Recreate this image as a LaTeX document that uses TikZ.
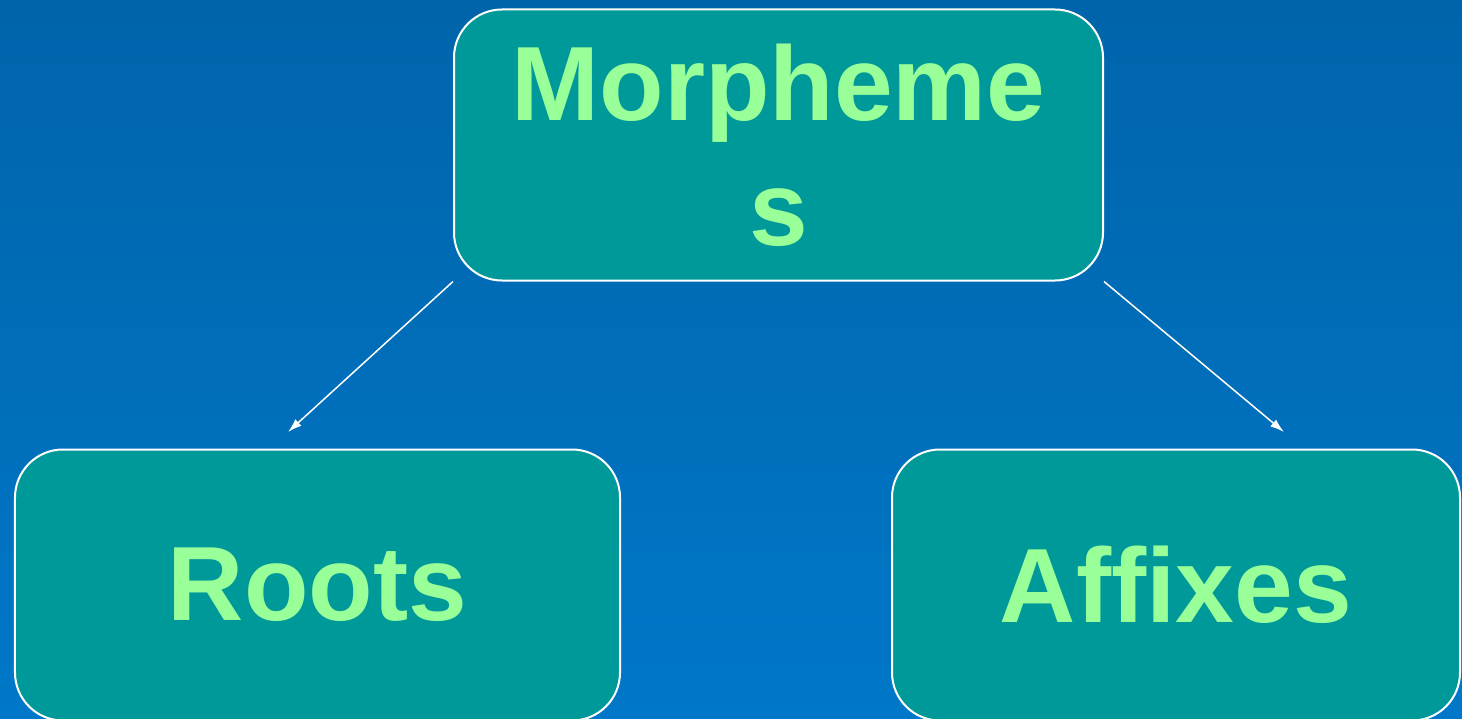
\documentclass[tikz,border=0pt]{standalone}
\usepackage{fontspec}
\usetikzlibrary{arrows.meta}
\setmainfont{Liberation Sans}
\definecolor{bgtop}{HTML}{0064AA}
\definecolor{bgbottom}{HTML}{0077C8}
\definecolor{boxfill}{HTML}{009999}
\definecolor{boxtext}{HTML}{99FF99}
\tikzset{
  termbox/.style={draw=white, line width=2bp, fill=boxfill, rounded corners=48bp,
    text=boxtext, font=\fontsize{106}{125}\selectfont\bfseries, align=center,
    inner sep=0pt, minimum height=271bp}
}
\begin{document}
\begin{tikzpicture}[>={Latex[length=14bp, width=9bp]}, x=1bp, y=-1bp]
        % Background
        \useasboundingbox (0,0) rectangle (1462,719);
        \shade[top color=bgtop, bottom color=bgbottom] (0,0) rectangle (1462,719);

        % Nodes
        \node[termbox, minimum width=649bp] (morph) at (778.5, 145) {Morpheme\\s};
        \node[termbox, minimum width=605bp] (roots) at (317.5, 585) {Roots};
        \node[termbox, minimum width=568bp] (affixes) at (1176, 585) {Affixes};
        \coordinate (rootstip) at (288, 432);
        \coordinate (affixestip) at (1284, 432);

        % Arrows
        \draw[->, white, line width=1.5bp] (morph.south west) -- (rootstip);
        \draw[->, white, line width=1.5bp] (morph.south east) -- (affixestip);
    \end{tikzpicture}
\end{document}
